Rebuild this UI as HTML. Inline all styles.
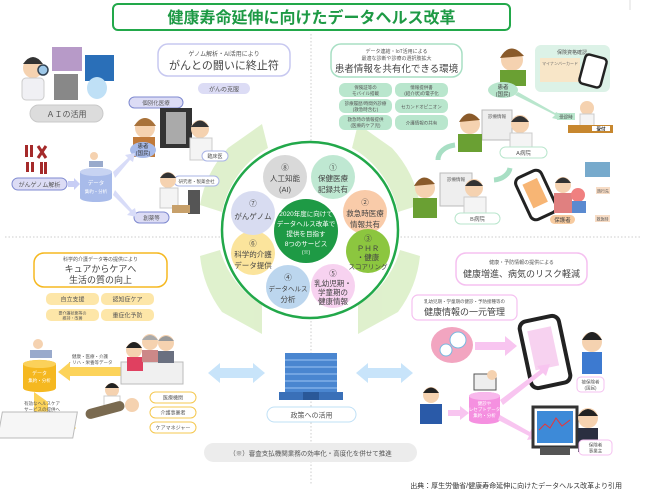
<!DOCTYPE html>
<html><head><meta charset="utf-8">
<style>
html,body{margin:0;padding:0;background:#fff;}
svg{display:block;font-family:"Liberation Sans","Noto Sans CJK JP",sans-serif;}
</style></head><body>
<svg width="650" height="497" viewBox="0 0 650 497" xmlns="http://www.w3.org/2000/svg">
<rect width="650" height="497" fill="#fff"/>
<line x1="311" y1="34" x2="311" y2="485" stroke="#ccc" stroke-dasharray="1.5,2"/>
<line x1="5" y1="237" x2="640" y2="237" stroke="#ccc" stroke-dasharray="1.5,2"/>
<line x1="630" y1="0" x2="630" y2="10" stroke="#ddd"/>
<rect x="113" y="4" width="397" height="26" rx="5" fill="#fff" stroke="#22a84a" stroke-width="2"/>
<text x="311.5" y="23" font-size="16" font-weight="bold" fill="#1e9a45" text-anchor="middle">健康寿命延伸に向けたデータヘルス改革</text>

<g fill="#dcefc8" opacity="0.9">
<path d="M228,148 L262,124 L268,148 A95,95 0 0 0 222,212 L200,205 A112,112 0 0 1 228,148Z"/>
<path d="M392,148 L358,124 L352,148 A95,95 0 0 1 398,212 L420,205 A112,112 0 0 0 392,148Z"/>
<path d="M222,312 L262,334 L262,305 A95,95 0 0 1 220,250 L200,256 A112,112 0 0 0 222,312Z"/>
<path d="M398,312 L358,334 L358,305 A95,95 0 0 0 400,250 L420,256 A112,112 0 0 1 398,312Z"/>
</g>
<circle cx="310" cy="230" r="88" fill="#fff" stroke="#22a84a" stroke-width="2.5"/>
<g font-size="7.5" fill="#444" text-anchor="middle">
<circle cx="285" cy="177" r="22" fill="#d9d9d9"/><text x="285" y="170">⑧</text><text x="285" y="181">人工知能</text><text x="285" y="192">(AI)</text>
<circle cx="333" cy="177" r="22" fill="#bfe8d2"/><text x="333" y="170">①</text><text x="333" y="181">保健医療</text><text x="333" y="192">記録共有</text>
<circle cx="365" cy="212" r="22" fill="#f9cba9"/><text x="365" y="205">②</text><text x="365" y="216">救急時医療</text><text x="365" y="227">情報共有</text>
<circle cx="368" cy="251" r="22" fill="#8cc63f"/><text x="368" y="241">③</text><text x="368" y="251">ＰＨＲ</text><text x="368" y="260">・健康</text><text x="368" y="269" font-size="6.5">スコアリング</text>
<circle cx="333" cy="286" r="22" fill="#f7d2f0"/><text x="333" y="276">⑤</text><text x="333" y="286">乳幼児期・</text><text x="333" y="295">学童期の</text><text x="333" y="304">健康情報</text>
<circle cx="288" cy="287" r="22" fill="#bcd6ee"/><text x="288" y="280">④</text><text x="288" y="291" font-size="6.5">データヘルス</text><text x="288" y="302">分析</text>
<circle cx="253" cy="253" r="22" fill="#fbe49c"/><text x="253" y="246">⑥</text><text x="253" y="257">科学的介護</text><text x="253" y="268">データ提供</text>
<circle cx="253" cy="213" r="22" fill="#d8dcf1"/><text x="253" y="206">⑦</text><text x="253" y="219">がんゲノム</text>
<circle cx="306" cy="231" r="32" fill="#1e9a45"/>
<g fill="#fff" font-size="6.5"><text x="306" y="216">2020年度に向けて</text><text x="306" y="226">データヘルス改革で</text><text x="306" y="236">提供を目指す</text><text x="306" y="246">8つのサービス</text><text x="306" y="254" font-size="5">(※)</text></g>
</g>

<rect x="158" y="44" width="132" height="32" rx="10" fill="#fff" stroke="#c7c8f0" stroke-width="1.5"/>
<text x="224" y="56" font-size="6" fill="#555" text-anchor="middle">ゲノム解析・AI活用により</text>
<text x="224" y="69" font-size="11" fill="#444" text-anchor="middle">がんとの闘いに終止符</text>
<rect x="198" y="83" width="52" height="11" rx="5.5" fill="#dcdcf5"/>
<text x="224" y="91.5" font-size="6" fill="#555" text-anchor="middle">がんの克服</text>
<circle cx="33" cy="68" r="10" fill="#f5d2b0"/><path d="M23,64 Q33,50 43,64Z" fill="#333"/>
<rect x="22" y="78" width="22" height="22" rx="4" fill="#f0f0f4" stroke="#ccc"/>
<circle cx="43" cy="70" r="5" fill="#9ec8e8" stroke="#345" stroke-width="1.5"/>
<rect x="52" y="47" width="30" height="24" fill="#b79ac8"/>
<rect x="54" y="74" width="24" height="26" fill="#888"/>
<rect x="85" y="55" width="29" height="26" fill="#2a6fb8"/><ellipse cx="97" cy="88" rx="10" ry="11" fill="#bfe0f6"/>
<rect x="30" y="105" width="73" height="17" rx="8.5" fill="#dcdcdc" stroke="#c9c9c9"/>
<text x="66.5" y="117" font-size="8" fill="#555" text-anchor="middle">ＡＩの活用</text>
<rect x="129" y="97" width="54" height="11" rx="5.5" fill="#dcdcf5" stroke="#7f8ad0"/>
<text x="156" y="105" font-size="5.5" fill="#555" text-anchor="middle">個別化医療</text>
<rect x="160" y="108" width="32" height="40" fill="#333"/><rect x="166" y="112" width="20" height="32" fill="#aaa"/>
<circle cx="145" cy="128" r="10" fill="#f5d2b0"/><path d="M134,126 Q145,110 156,126Z" fill="#a8723a"/>
<rect x="133" y="137" width="22" height="20" fill="#c07a3a"/>
<circle cx="200" cy="129" r="9" fill="#f5d2b0"/><path d="M191,127 Q200,114 209,127Z" fill="#333"/>
<rect x="190" y="138" width="22" height="22" fill="#f4f4f4" stroke="#ccc"/>
<ellipse cx="143" cy="150" rx="13" ry="8" fill="#a8bbea"/>
<text x="143" y="148" font-size="5.5" fill="#333" text-anchor="middle">患者</text><text x="143" y="155" font-size="5.5" fill="#333" text-anchor="middle">(国民)</text>
<rect x="202" y="151" width="26" height="10" rx="5" fill="#fff" stroke="#a9b4e6"/><text x="215" y="158" font-size="5" fill="#555" text-anchor="middle">臨床医</text>
<rect x="174" y="176" width="45" height="10" rx="5" fill="#fff" stroke="#a9b4e6"/><text x="196.5" y="183" font-size="4.5" fill="#555" text-anchor="middle">研究者・製薬会社</text>
<circle cx="168" cy="180" r="8" fill="#f5d2b0"/><path d="M160,178 Q168,167 176,178Z" fill="#333"/>
<rect x="160" y="188" width="18" height="20" fill="#f4f4f4" stroke="#ccc"/>
<rect x="188" y="190" width="12" height="24" fill="#555"/><rect x="172" y="205" width="18" height="8" fill="#c7a06a"/>
<rect x="134" y="212" width="35" height="11" rx="5.5" fill="#dcdcf5" stroke="#7f8ad0"/><text x="151.5" y="220" font-size="5.5" fill="#555" text-anchor="middle">創薬等</text>
<g fill="#a52a2a"><rect x="25" y="145" width="3" height="12"/><rect x="30" y="145" width="3" height="12"/><path d="M38,146 L46,158 M46,146 L38,158" stroke="#a52a2a" stroke-width="3"/><rect x="26" y="162" width="3" height="10"/><rect x="31" y="162" width="3" height="10"/><rect x="40" y="162" width="3" height="12"/><rect x="44" y="162" width="3" height="12"/></g>
<rect x="12" y="178" width="55" height="12" rx="6" fill="#dcdcf5" stroke="#7f8ad0"/><text x="39.5" y="187" font-size="6" fill="#555" text-anchor="middle">がんゲノム解析</text>
<path d="M68,181 L74,181 L74,178 L80,184 L74,190 L74,187 L68,187Z" fill="#c7cdf5"/>
<path d="M80,172 v26 a16,4 0 0 0 32,0 v-26 a16,4 0 0 0 -32,0Z" fill="#a8bbea"/><ellipse cx="96" cy="172" rx="16" ry="4" fill="#c7d3f2"/>
<text x="96" y="185" font-size="5.5" fill="#fff" text-anchor="middle">データ</text><text x="96" y="193" font-size="4.5" fill="#fff" text-anchor="middle">集約・分析</text>
<circle cx="94" cy="156" r="4" fill="#f5d2b0"/><rect x="89" y="161" width="14" height="6" fill="#9ac"/>
<path d="M113,172 L128,158 L125,155 L135,153 L133,162 L130,160 L115,178Z" fill="#d8dcf8"/>
<path d="M113,195 L130,212 L127,215 L137,217 L135,208 L132,210 L115,190Z" fill="#d8dcf8"/>

<rect x="331" y="44" width="131" height="33" rx="10" fill="#fff" stroke="#a8dfc4" stroke-width="1.5"/>
<text x="396.5" y="53" font-size="5" fill="#555" text-anchor="middle">データ連結・IoT活用による</text>
<text x="396.5" y="60" font-size="5" fill="#555" text-anchor="middle">最適な診断や診療の選択肢拡大</text>
<text x="396.5" y="72" font-size="9.5" fill="#444" text-anchor="middle">患者情報を共有化できる環境</text>
<g fill="#b9e6cd"><rect x="339" y="83" width="53" height="14" rx="6"/><rect x="395" y="83" width="53" height="14" rx="6"/><rect x="339" y="99" width="53" height="14" rx="6"/><rect x="395" y="99" width="53" height="14" rx="6"/><rect x="339" y="115" width="53" height="15" rx="6"/><rect x="395" y="115" width="53" height="15" rx="6"/></g>
<g font-size="4.5" fill="#555" text-anchor="middle">
<text x="365.5" y="89">保険証等の</text><text x="365.5" y="95">モバイル搭載</text>
<text x="421.5" y="89">情報提供書</text><text x="421.5" y="95">(紹介状)の電子化</text>
<text x="365.5" y="105">診療履歴/時間外診療</text><text x="365.5" y="111">(救急時含む)</text>
<text x="421.5" y="108.5">セカンドオピニオン</text>
<text x="365.5" y="121">救急時の情報提供</text><text x="365.5" y="127">(医療的ケア児)</text>
<text x="421.5" y="124.5">介護情報の共有</text></g>
<circle cx="512" cy="60" r="11" fill="#f5d2b0"/><path d="M500,58 Q510,40 524,56Z" fill="#8a5a2a"/><rect x="500" y="70" width="26" height="16" fill="#6aa033"/>
<ellipse cx="503" cy="90" rx="15" ry="8" fill="#b9e6cd"/><text x="503" y="89" font-size="5.5" fill="#444" text-anchor="middle">患者</text><text x="503" y="96" font-size="5.5" fill="#444" text-anchor="middle">(国民)</text>
<rect x="535" y="45" width="75" height="47" rx="6" fill="#dcf2e7"/><text x="572" y="54" font-size="5" fill="#555" text-anchor="middle">保険資格確認</text>
<rect x="540" y="58" width="40" height="24" fill="#f8e6c8"/><text x="560" y="65" font-size="4" fill="#666" text-anchor="middle">マイナンバーカード</text>
<rect x="582" y="56" width="22" height="30" rx="4" fill="#fff" stroke="#222" stroke-width="2.5" transform="rotate(15 593 71)"/>
<path d="M515,95 L555,115 L552,118 L560,120 L557,112 L555,113 L518,92Z" fill="#b9e6cd"/>
<rect x="557" y="113" width="18" height="7" fill="#b9e6cd"/><text x="566" y="118.5" font-size="4.5" fill="#444" text-anchor="middle">受診時</text>
<circle cx="587" cy="108" r="7" fill="#f5d2b0"/><rect x="580" y="114" width="14" height="12" fill="#f4f4f4" stroke="#ccc"/>
<rect x="568" y="125" width="45" height="8" fill="#c7872e"/><rect x="592" y="126" width="18" height="5" fill="#fff"/><text x="601" y="130.5" font-size="4.5" font-weight="bold" fill="#222" text-anchor="middle">受付</text>
<rect x="482" y="110" width="30" height="30" fill="#eee" stroke="#bbb"/><text x="497" y="118" font-size="4.5" fill="#555" text-anchor="middle">診療情報</text>
<circle cx="470" cy="124" r="10" fill="#f5d2b0"/><path d="M459,122 Q468,106 480,120Z" fill="#8a5a2a"/><rect x="458" y="134" width="24" height="18" fill="#6aa033"/>
<circle cx="520" cy="124" r="9" fill="#f5d2b0"/><path d="M511,122 Q520,110 529,122Z" fill="#333"/><rect x="510" y="133" width="22" height="16" fill="#f4f4f4" stroke="#ccc"/>
<rect x="500" y="147" width="47" height="11" rx="5.5" fill="#fff" stroke="#b9e6cd"/><text x="523.5" y="155" font-size="5.5" fill="#555" text-anchor="middle">A病院</text>
<path d="M438,160 A20,15 0 0 1 455,145" fill="none" stroke="#a8dfc4" stroke-width="5"/>
<path d="M510,168 A18,14 0 0 1 494,180" fill="none" stroke="#a8dfc4" stroke-width="5"/>
<rect x="440" y="173" width="32" height="33" fill="#eee" stroke="#bbb"/><text x="456" y="181" font-size="4.5" fill="#555" text-anchor="middle">診療情報</text>
<circle cx="425" cy="188" r="10" fill="#f5d2b0"/><path d="M414,186 Q423,170 435,184Z" fill="#8a5a2a"/><rect x="413" y="198" width="24" height="20" fill="#6aa033"/>
<circle cx="474" cy="188" r="9" fill="#f5d2b0"/><path d="M465,186 Q474,174 483,186Z" fill="#333"/><rect x="464" y="197" width="22" height="16" fill="#f4f4f4" stroke="#ccc"/>
<rect x="455" y="213" width="45" height="11" rx="5.5" fill="#fff" stroke="#b9e6cd"/><text x="477.5" y="221" font-size="5.5" fill="#555" text-anchor="middle">B病院</text>
<rect x="522" y="172" width="28" height="46" rx="6" fill="#fff" stroke="#222" stroke-width="3" transform="rotate(-25 536 195)"/>
<rect x="528" y="180" width="16" height="26" fill="#f7b574" transform="rotate(-25 536 195)"/>
<circle cx="563" cy="185" r="8" fill="#f5d2b0"/><path d="M555,183 Q563,172 571,183Z" fill="#333"/><rect x="554" y="193" width="18" height="20" fill="#e08080"/>
<circle cx="578" cy="195" r="7" fill="#f08080"/><rect x="572" y="201" width="14" height="12" fill="#5a8ad0"/>
<rect x="585" y="162" width="25" height="15" fill="#7ac"/>
<rect x="550" y="215" width="25" height="9" rx="4.5" fill="#f7cba0"/><text x="562.5" y="222" font-size="5.5" fill="#444" text-anchor="middle">保護者</text>
<rect x="596" y="187" width="14" height="7" fill="#f7dcc5"/><text x="603" y="192.5" font-size="4" fill="#555" text-anchor="middle">旅行先</text>
<rect x="595" y="215" width="15" height="7" fill="#f7dcc5"/><text x="602.5" y="220.5" font-size="4" fill="#555" text-anchor="middle">救急時</text>

<rect x="34" y="253" width="133" height="34" rx="10" fill="#fff" stroke="#f5b820" stroke-width="1.5"/>
<text x="100.5" y="261" font-size="5" fill="#555" text-anchor="middle">科学的介護データ等の提供により</text>
<text x="100.5" y="272" font-size="9" fill="#444" text-anchor="middle">キュアからケアへ</text>
<text x="100.5" y="283" font-size="9" fill="#444" text-anchor="middle">生活の質の向上</text>
<g fill="#fde6a8"><rect x="46" y="293" width="53" height="12" rx="5"/><rect x="101" y="293" width="53" height="12" rx="5"/><rect x="46" y="309" width="53" height="12" rx="5"/><rect x="101" y="309" width="53" height="12" rx="5"/></g>
<g fill="#555" text-anchor="middle"><text x="72.5" y="301.5" font-size="6">自立支援</text><text x="127.5" y="301.5" font-size="6">認知症ケア</text><text x="72.5" y="314.5" font-size="4">要介護状態等の</text><text x="72.5" y="319.5" font-size="4">維持・改善</text><text x="127.5" y="317.5" font-size="6">重症化予防</text></g>
<circle cx="38" cy="344" r="5" fill="#f5d2b0"/><rect x="30" y="350" width="22" height="8" fill="#9ac"/>
<path d="M23,364 v24 a16,4 0 0 0 33,0 v-24 a16,4 0 0 0 -33,0Z" fill="#f5b820"/><ellipse cx="39.5" cy="364" rx="16.5" ry="4" fill="#fbd15a"/>
<text x="39.5" y="375" font-size="5" fill="#fff" text-anchor="middle">データ</text><text x="39.5" y="382" font-size="4.5" fill="#fff" text-anchor="middle">集約・分析</text>
<text x="90" y="358" font-size="4.5" fill="#555" text-anchor="middle">健康・医療・介護</text><text x="90" y="364" font-size="4.5" fill="#555" text-anchor="middle">・リハ・栄養等データ</text>
<path d="M121,367 L70,367 L70,362 L58,372 L70,381 L70,376 L121,376Z" fill="#fcd35a"/>
<path d="M34,392 v28 a12,12 0 0 0 12,12 h20 v6 l10,-10 l-10,-10 v6 h-18 v-22Z" fill="#fcd35a"/>
<text x="42" y="405" font-size="4.5" fill="#555" text-anchor="middle">有効なヘルスケア</text><text x="42" y="411" font-size="4.5" fill="#555" text-anchor="middle">サービスの提供へ</text>
<rect x="121" y="362" width="62" height="22" fill="#f0f0f0" stroke="#bbb"/>
<circle cx="134" cy="350" r="8" fill="#f5d2b0"/><path d="M126,348 Q134,336 142,348Z" fill="#222"/><rect x="127" y="357" width="16" height="14" fill="#e04060"/>
<circle cx="150" cy="342" r="8" fill="#f5d2b0"/><path d="M142,340 Q150,330 158,340Z" fill="#aaa"/><rect x="142" y="350" width="16" height="12" fill="#c88"/>
<circle cx="166" cy="343" r="8" fill="#f5d2b0"/><path d="M158,341 Q166,331 174,341Z" fill="#999"/><rect x="158" y="351" width="16" height="12" fill="#6a7080"/>
<rect x="75" y="412" width="75" height="26" fill="#f6f6f6" stroke="#bbb" transform="skewX(-10)"/>
<circle cx="112" cy="390" r="7" fill="#f5d2b0"/><path d="M105,388 Q112,378 119,388Z" fill="#222"/><rect x="104" y="396" width="16" height="12" fill="#fff" stroke="#ccc"/>
<circle cx="132" cy="405" r="7" fill="#f5d2b0"/><rect x="85" y="405" width="40" height="10" rx="5" fill="#7a6a50" transform="rotate(-15 105 410)"/>
<g fill="#fff" stroke="#f5c850"><rect x="150" y="392" width="46" height="11" rx="5.5"/><rect x="150" y="407" width="46" height="11" rx="5.5"/><rect x="150" y="422" width="46" height="11" rx="5.5"/></g>
<g font-size="5" fill="#555" text-anchor="middle"><text x="173" y="399.5">医療機関</text><text x="173" y="414.5">介護事業者</text><text x="173" y="429.5">ケアマネジャー</text></g>

<path d="M208,373 l12,-10 v5 h33 v-5 l12,10 l-12,10 v-5 h-33 v5Z" fill="#c8e4fa"/>
<path d="M356,373 l12,-10 v5 h33 v-5 l12,10 l-12,10 v-5 h-33 v5Z" fill="#c8e4fa"/>
<rect x="285" y="353" width="52" height="47" fill="#4a86d0"/>
<g stroke="#8cb8ec" stroke-width="1.2"><line x1="285" y1="360" x2="337" y2="360"/><line x1="285" y1="367" x2="337" y2="367"/><line x1="285" y1="374" x2="337" y2="374"/><line x1="285" y1="381" x2="337" y2="381"/><line x1="285" y1="388" x2="337" y2="388"/></g>
<rect x="279" y="392" width="64" height="8" fill="#3a70b8"/><rect x="303" y="392" width="16" height="8" fill="#2a5898"/>
<rect x="267" y="407" width="89" height="15" rx="7.5" fill="#fff" stroke="#bfe0f6"/>
<text x="311.5" y="417.5" font-size="7" fill="#555" text-anchor="middle">政策への活用</text>
<rect x="204" y="443" width="213" height="19" rx="9.5" fill="#ececec"/>
<text x="310.5" y="455.5" font-size="6.5" fill="#555" text-anchor="middle">（※）審査支払機関業務の効率化・高度化を併せて推進</text>

<rect x="456" y="253" width="131" height="32" rx="10" fill="#fff" stroke="#f5c0f0" stroke-width="1.5"/>
<text x="521.5" y="264" font-size="5" fill="#555" text-anchor="middle">健康・予防情報の提供による</text>
<text x="521.5" y="277" font-size="9" fill="#444" text-anchor="middle">健康増進、病気のリスク軽減</text>
<rect x="412" y="295" width="105" height="25" rx="6" fill="#fff" stroke="#f5c0f0" stroke-width="1.2"/>
<text x="464.5" y="303" font-size="4.5" fill="#555" text-anchor="middle">乳幼児期・学童期の健診・予防接種等の</text>
<text x="464.5" y="315" font-size="9" fill="#444" text-anchor="middle">健康情報の一元管理</text>
<ellipse cx="452" cy="345" rx="21" ry="18" fill="#f2a5c0"/><circle cx="458" cy="340" r="8" fill="#fff" stroke="#7ab8e0"/><circle cx="446" cy="350" r="6" fill="#fff" stroke="#7ab8e0"/>
<path d="M475,342 h30 v-6 l12,10 l-12,10 v-6 h-30Z" fill="#f8c5f0"/>
<rect x="525" y="318" width="40" height="68" rx="7" fill="#fff" stroke="#222" stroke-width="4" transform="rotate(-12 545 352)"/>
<rect x="532" y="328" width="24" height="40" fill="#f7d2f0" transform="rotate(-12 545 352)"/>
<circle cx="592" cy="342" r="10" fill="#f5d2b0"/><path d="M582,340 Q592,324 602,340Z" fill="#222"/><rect x="582" y="352" width="20" height="22" fill="#3d7ad0"/>
<rect x="577" y="377" width="27" height="15" rx="4" fill="#fff" stroke="#f5c0f0"/><text x="590.5" y="383.5" font-size="4.5" fill="#555" text-anchor="middle">被保険者</text><text x="590.5" y="389.5" font-size="4.5" fill="#555" text-anchor="middle">(国民)</text>
<rect x="474" y="374" width="22" height="16" fill="#eee" stroke="#555"/><circle cx="492" cy="375" r="5" fill="#f5d2b0"/>
<path d="M469,396 v24 a15.5,4 0 0 0 31,0 v-24 a15.5,4 0 0 0 -31,0Z" fill="#f590e0"/><ellipse cx="484.5" cy="396" rx="15.5" ry="4" fill="#f8b8ec"/>
<text x="484.5" y="405" font-size="4.5" fill="#fff" text-anchor="middle">健診や</text><text x="484.5" y="411" font-size="4.5" fill="#fff" text-anchor="middle">レセプトデータ</text><text x="484.5" y="417" font-size="4.5" fill="#fff" text-anchor="middle">集約・分析</text>
<circle cx="431" cy="395" r="8" fill="#f5d2b0"/><path d="M423,393 Q431,382 439,393Z" fill="#222"/><rect x="420" y="404" width="22" height="20" fill="#2a5aa8"/>
<path d="M448,410 h12 v-4 l9,7 l-9,7 v-4 h-12Z" fill="#f8c5f0"/>
<path d="M500,400 L540,370 L537,366 L550,364 L546,376 L543,373 L503,405Z" fill="#f8c5f0"/>
<path d="M500,415 L530,432 L532,428 L540,438 L527,440 L529,436 L498,420Z" fill="#f8c5f0"/>
<rect x="533" y="407" width="44" height="40" fill="#fff" stroke="#333" stroke-width="3"/><rect x="537" y="411" width="36" height="32" fill="#3d8ad8"/><path d="M539,430 l6,-6 l5,4 l6,-10 l6,8 l8,-6" stroke="#e33" fill="none"/>
<rect x="540" y="447" width="30" height="8" fill="#555"/>
<circle cx="588" cy="418" r="10" fill="#f5d2b0"/><path d="M578,416 Q588,402 598,416Z" fill="#222"/><rect x="578" y="428" width="20" height="24" fill="#2a2f40"/>
<rect x="579" y="440" width="33" height="15" rx="4" fill="#fff" stroke="#f5c0f0"/><text x="595.5" y="446.5" font-size="4.5" fill="#555" text-anchor="middle">保険者</text><text x="595.5" y="452.5" font-size="4.5" fill="#555" text-anchor="middle">事業主</text>

<text x="622" y="488" font-size="7" fill="#333" text-anchor="end">出典：厚生労働省/健康寿命延伸に向けたデータヘルス改革より引用</text>
</svg>
</body></html>
